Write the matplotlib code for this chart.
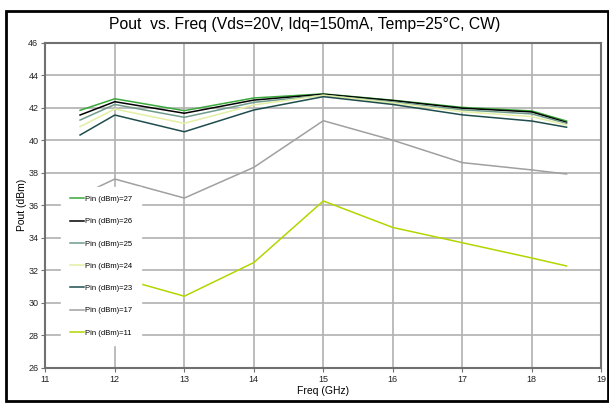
import matplotlib.pyplot as plt
from matplotlib.patches import Rectangle

plt.rcParams["font.family"] = ["Liberation Sans", "DejaVu Sans"]

# Frequency points (GHz)
freq = [11.5, 12, 13, 14, 15, 16, 17, 18, 18.5]

# Pout (dBm) per input power level
pout_27 = [41.84, 42.55, 41.82, 42.60, 42.85, 42.46, 42.02, 41.80, 41.18]
pout_26 = [41.55, 42.37, 41.66, 42.47, 42.83, 42.44, 41.97, 41.74, 41.10]
pout_25 = [41.24, 42.20, 41.41, 42.33, 42.77, 42.36, 41.87, 41.62, 41.04]
pout_24 = [40.83, 41.92, 41.04, 42.17, 42.77, 42.30, 41.76, 41.45, 40.94]
pout_23 = [40.32, 41.55, 40.52, 41.86, 42.68, 42.20, 41.56, 41.18, 40.80]
pout_17 = [36.60, 37.61, 36.44, 38.33, 41.20, 40.00, 38.62, 38.17, 37.92]
pout_11 = [30.90, 31.60, 30.40, 32.47, 36.26, 34.63, 33.69, 32.75, 32.26]

labels = ["Pin (dBm)=27", "Pin (dBm)=26", "Pin (dBm)=25", "Pin (dBm)=24",
          "Pin (dBm)=23", "Pin (dBm)=17", "Pin (dBm)=11"]
series = [pout_27, pout_26, pout_25, pout_24, pout_23, pout_17, pout_11]
colors = ["#3aa83a", "#000000", "#6e9a8c", "#e2efa4", "#1f4d4d", "#a0a0a0", "#b3d600"]

fig = plt.figure(figsize=(6.09, 4.03), dpi=100)
ax = fig.add_axes([0.0744, 0.0876, 0.913, 0.8064])

for vals, lab, col in zip(series, labels, colors):
    ax.plot(freq, vals, color=col, linewidth=1.1, label=lab)

ax.set_xlim(11, 19)
ax.set_ylim(26, 46)
ax.set_xticks(range(11, 20))
ax.set_yticks(range(26, 47, 2))
ax.grid(True, color="#b0b0b0", linewidth=1.2)
ax.set_axisbelow(True)
for s in ax.spines.values():
    s.set_color("#707070")
    s.set_linewidth(1.5)
ax.tick_params(axis="both", labelsize=6.5, colors="#707070", labelcolor="#222222",
               length=3, width=0.8, pad=2)

ax.set_xlabel("Freq (GHz)", fontsize=7.5, labelpad=2)
ax.set_ylabel("Pout (dBm)", fontsize=7.5, labelpad=1)

leg = ax.legend(loc="upper left", bbox_to_anchor=(0.028, 0.556), fontsize=5.5,
                frameon=True, fancybox=False, handlelength=1.9, handletextpad=0.1,
                labelspacing=1.95, borderpad=1.15, borderaxespad=0)
leg.get_frame().set_facecolor("white")
leg.get_frame().set_edgecolor("white")
leg.get_frame().set_alpha(1)

fig.text(0.5, 0.938, "Pout  vs. Freq (Vds=20V, Idq=150mA, Temp=25°C, CW)",
         ha="center", va="center", fontsize=11.3)

# outer frame
fig.patches.append(Rectangle((6 / 609, 2 / 403), 602 / 609, 390 / 403,
                             transform=fig.transFigure, fill=False,
                             edgecolor="black", linewidth=2))

fig.savefig("out.png", dpi=100)
